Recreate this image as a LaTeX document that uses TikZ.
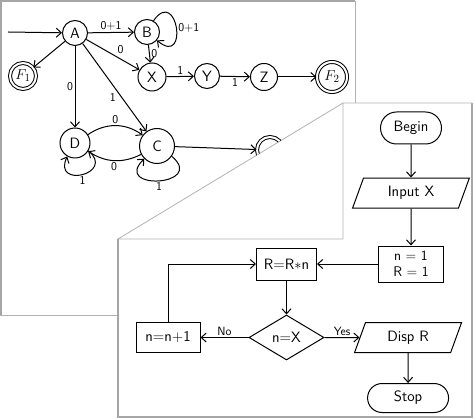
\documentclass[tikz,border=0pt]{standalone}
\usepackage{amsmath}
\usepackage{xcolor}
\usepackage{tikz}
\usetikzlibrary{positioning,shapes.geometric,shapes.misc,arrows.meta}

\begin{document}
\begin{tikzpicture}[
    x=1pt, y=-1pt,
    >={Straight Barb[length=5pt,width=9pt]},
    state/.style={draw, circle, line width=1pt, minimum size=25pt, inner sep=0pt,
                  font=\sffamily\fontsize{15}{17}\selectfont},
    final/.style={state, double, double distance=2pt},
    lbl/.style={font=\sffamily\fontsize{12}{14}\selectfont, inner sep=1.5pt},
    arrow/.style={->, line width=1pt},
    paper/.style={draw=black!35, line width=2pt},
    fold/.style={draw=black!30, line width=0.8pt},
    chart/.style={draw, line width=1pt, align=center, inner sep=1pt,
                  font=\sffamily\fontsize{15}{17}\selectfont},
    terminal/.style={chart, rounded rectangle, minimum height=32pt},
    procbox/.style={chart, rectangle, minimum height=32pt},
    iobox/.style={chart, trapezium, trapezium left angle=70, trapezium right angle=110,
                  minimum height=30pt},
    testbox/.style={chart, diamond, aspect=1.7, minimum width=75pt, minimum height=45pt}
]
    \useasboundingbox (0,0) rectangle (474,419);

    % the two sheets
    \draw[paper] (1,315) -- (1,1) -- (355,1);
    \draw[fold] (355,1) -- (355,103);
    \draw[fold] (0,315) -- (118,315);
    \draw[paper] (118,239) -- (118,417) -- (472,417) -- (472,103);
    \draw[fold] (472,103) -- (343,103) -- (118,239) -- (343,239) -- (343,103);

    % automaton on the back sheet (y points down, so polar angles are mirrored)
    \begin{scope}
    \clip (0,0) -- (355,0) -- (355,103) -- (343,103) -- (118,239) -- (118,315) -- (0,315) -- cycle;
    \coordinate (start) at (8,32);
    \node[state] (A) at (75,33) {A};
    \node[state] (B) at (147,32) {B};
    \node[final, minimum size=26pt] (F1) at (23,76) {$F_1$};
    \node[state, minimum size=28pt] (X) at (152,77) {X};
    \node[state] (Y) at (207,76) {Y};
    \node[state, minimum size=27pt] (Z) at (264,77) {Z};
    \node[final, minimum size=30pt] (F2) at (332,77) {$F_2$};
    \node[state, minimum size=30pt] (D) at (75,143) {D};
    \node[state, minimum size=35pt] (C) at (157,146) {C};
    \node[final, minimum size=26pt] (H) at (270,150) {};

    \draw[arrow] (start) -- (A);
    \draw[arrow] (A) -- node[lbl, above] {0+1} (B);
    \draw[arrow] (B.60) .. controls +(-55:42) and +(40:42) .. node[lbl, right] {0+1} (B.-40);
    \draw[arrow] (A) -- (F1);
    \draw[arrow] (A) -- node[lbl, above right, pos=0.55] {0} (X);
    \draw[arrow] (B) -- node[lbl, right] {0} (X);
    \draw[arrow] (X) -- node[lbl, above] {1} (Y);
    \draw[arrow] (Y) -- node[lbl, below] {1} (Z);
    \draw[arrow] (Z) -- (F2);
    \draw[arrow] (A) -- node[lbl, left] {0} (D);
    \draw[arrow] (A) -- node[lbl, below left, pos=0.55] {1} (C);
    \draw[arrow] (D) to[bend left=35] node[lbl, above] {0} (C);
    \draw[arrow] (C) to[bend left=30] node[lbl, below] {0} (D);
    \draw[arrow] (D.-30) .. controls +(40:36) and +(115:36) .. node[lbl, below] {1} (D.-120);
    \draw[arrow] (C.-35) .. controls +(40:46) and +(135:46) .. node[lbl, below] {1} (C.-135);
    \draw[arrow] (C) -- (H);
    \end{scope}

    % flowchart on the front sheet
    \node[terminal, minimum width=63pt] (begin) at (411,128) {Begin};
    \node[iobox, minimum width=80pt, below=33pt of begin] (input) {Input X};
    \node[procbox, minimum width=65pt, minimum height=36pt, below=37pt of input,
          font=\sffamily\fontsize{14}{16}\selectfont] (init) {n = 1\\R = 1};
    \node[procbox, minimum width=60pt, left=61pt of init] (mult) {R=R$*$n};
    \node[testbox, below=34pt of mult] (test) {n=X};
    \node[procbox, minimum width=64pt, minimum height=30pt, left=48pt of test] (incr) {n=n+1};
    \node[iobox, minimum width=70pt, right=35pt of test] (disp) {Disp R};
    \node[terminal, minimum width=83pt, minimum height=29pt, below=30pt of disp] (stop) {Stop};

    \draw[arrow] (begin) -- (input);
    \draw[arrow] (input) -- (init);
    \draw[arrow] (init) -- (mult);
    \draw[arrow] (mult) -- (test);
    \draw[arrow] (test) -- node[lbl, above] {No} (incr);
    \draw[arrow] (test) -- node[lbl, above] {Yes} (disp);
    \draw[arrow] (incr.north) |- (mult.west);
    \draw[arrow] (disp) -- (stop);
\end{tikzpicture}
\end{document}
